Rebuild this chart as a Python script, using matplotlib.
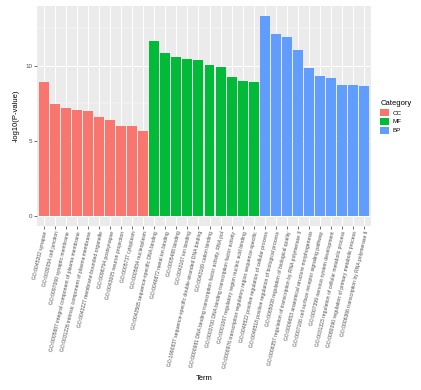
import matplotlib
matplotlib.use("Agg")
import matplotlib.pyplot as plt
from matplotlib.patches import Patch

categories = ["CC", "MF", "BP"]
colors = {"CC": "#F8766D", "MF": "#00BA38", "BP": "#619CFF"}

cc_terms = [
    "GO:0045202 synapse",
    "GO:0030054 cell junction",
    "GO:0097060 synaptic membrane",
    "GO:0005887 integral component of plasma membrane",
    "GO:0031226 intrinsic component of plasma membrane",
    "GO:0043227 membrane-bounded organelle",
    "GO:0098794 postsynapse",
    "GO:0043005 neuron projection",
    "GO:0005737 cytoplasm",
    "GO:0005654 nucleoplasm",
]
cc_values = [8.93, 7.44, 7.16, 7.07, 6.96, 6.56, 6.40, 5.98, 5.96, 5.67]

mf_terms = [
    "GO:0043565 sequence-specific DNA binding",
    "GO:0046872 metal ion binding",
    "GO:0005488 binding",
    "GO:0043167 ion binding",
    "GO:1990837 sequence-specific double-stranded DNA binding",
    "GO:0043169 cation binding",
    "GO:0000981 DNA binding transcription factor activity, RNA pol",
    "GO:0003700 DNA binding transcription factor activity",
    "GO:0001067 regulatory region nucleic acid binding",
    "GO:0000976 transcription regulatory region sequence-specific",
]
mf_values = [11.64, 10.84, 10.60, 10.47, 10.40, 10.04, 9.93, 9.24, 9.00, 8.89]

bp_terms = [
    "GO:0048522 positive regulation of cellular process",
    "GO:0048518 positive regulation of biological process",
    "GO:0065008 regulation of biological quality",
    "GO:0006357 regulation of transcription by RNA polymerase II",
    "GO:0009653 anatomical structure morphogenesis",
    "GO:0007166 cell surface receptor signaling pathway",
    "GO:0007399 nervous system development",
    "GO:0031323 regulation of cellular metabolic process",
    "GO:0080090 regulation of primary metabolic process",
    "GO:0006366 transcription by RNA polymerase II",
]
bp_values = [13.33, 12.13, 11.91, 11.07, 9.84, 9.33, 9.20, 8.73, 8.73, 8.64]

terms = cc_terms + mf_terms + bp_terms
values = cc_values + mf_values + bp_values
cats = ["CC"] * len(cc_terms) + ["MF"] * len(mf_terms) + ["BP"] * len(bp_terms)

plt.rcParams["font.family"] = ["Liberation Sans", "DejaVu Sans"]

fig = plt.figure(figsize=(4.21, 3.90), dpi=100)
ax = fig.add_axes([0.088, 0.421, 0.793, 0.564])
ax.set_facecolor("#EBEBEB")

x = list(range(1, len(terms) + 1))
ax.bar(x, values, width=0.9, color=[colors[c] for c in cats], zorder=3)

ymax = max(values) * 1.05
ax.set_ylim(-max(values) * 0.05, ymax)
ax.set_xlim(0.4, len(terms) + 0.6)

ax.set_yticks([0, 5, 10])
ax.set_yticks([2.5, 7.5, 12.5], minor=True)
ax.set_xticks(x)
ax.set_xticklabels(terms, rotation=77, ha="right", rotation_mode="anchor",
                   fontsize=3.65, color="#4D4D4D")
ax.tick_params(axis="y", which="major", labelsize=4.5, labelcolor="#4D4D4D",
               length=2, width=0.5, color="#333333", pad=1.5)
ax.tick_params(axis="y", which="minor", length=0)
ax.tick_params(axis="x", length=2, width=0.5, color="#333333", pad=1.5)

ax.grid(True, which="major", color="white", linewidth=0.7, zorder=0)
ax.grid(True, which="minor", axis="y", color="white", linewidth=0.35, zorder=0)
ax.set_axisbelow(True)
for s in ax.spines.values():
    s.set_visible(False)

ax.set_ylabel("-log10(P-value)", fontsize=5.5, labelpad=4)
fig.text(204 / 421, 1 - 378 / 390, "Term", fontsize=5.5, ha="center", va="center")

handles = [Patch(facecolor=colors[c], edgecolor="none") for c in categories]
leg = fig.legend(handles, categories, title="Category",
                 loc="upper left", bbox_to_anchor=(376 / 421, 1 - 96 / 390),
                 frameon=False, fontsize=4.5, title_fontsize=5.5,
                 handlelength=1.4, handleheight=1.4, handletextpad=0.6,
                 labelspacing=0.25, borderpad=0.2)
leg._legend_box.align = "left"

fig.savefig("out.png", dpi=100)
